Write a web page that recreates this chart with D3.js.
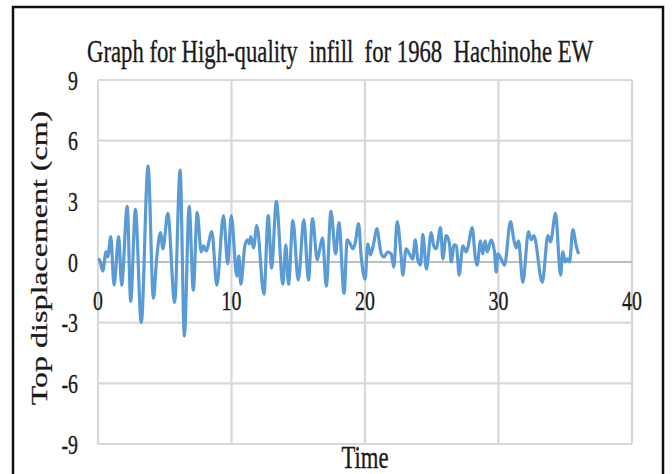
<!DOCTYPE html>
<html>
<head>
<meta charset="utf-8">
<script src="https://cdn.jsdelivr.net/npm/d3@7"></script>
<style>
  html, body { margin: 0; padding: 0; background: #fff; }
  svg { display: block; }
</style>
</head>
<body>
<svg id="chart" width="672" height="474"></svg>
<script>
// ---- data ----
const titleText = "Graph for High-quality  infill  for 1968  Hachinohe EW";
const xTitle = "Time";
const yTitle = "Top displacement (cm)";
const xTicks = [0, 10, 20, 30, 40];
const yTicks = [-9, -6, -3, 0, 3, 6, 9];

const time = [
  0.0, 0.12, 0.36, 0.6, 0.72, 0.96, 1.2, 1.55, 1.77, 2.19, 2.45, 2.8, 3.24, 3.75,
  4.15, 4.4, 4.68, 4.86, 5.23, 5.74, 6.15, 6.47, 6.83, 7.14, 7.43, 7.73, 7.9, 8.1,
  8.53, 8.9, 9.4, 9.72, 9.98, 10.4, 10.55, 10.7, 11.0, 11.2, 11.33, 11.45, 11.65, 11.9,
  12.43, 12.75, 13.0, 13.36, 13.85, 14.07, 14.27, 14.6, 15.0, 15.42, 15.76, 16.07,
  16.42, 16.6, 16.82, 17.1, 17.45, 17.8, 18.05, 18.43, 18.67, 18.86, 19.09, 19.27,
  19.52, 19.71, 20.01, 20.21, 20.41, 20.66, 20.88, 21.2, 21.41, 21.71, 21.96, 22.16,
  22.41, 22.71, 22.83, 23.08, 23.33, 23.58, 23.76, 23.96, 24.16, 24.33, 24.6, 24.96,
  25.15, 25.33, 25.66, 25.83, 26.08, 26.33, 26.46, 26.68, 26.85, 27.05, 27.33, 27.58,
  27.7, 28.03, 28.25, 28.4, 28.65, 28.82, 29.0, 29.15, 29.45, 29.7, 29.83, 29.95,
  30.2, 30.45, 30.9, 31.15, 31.33, 31.5, 31.82, 32.25, 32.45, 32.65, 33.28, 33.7,
  33.9, 34.27, 34.65, 34.82, 35.0, 35.15, 35.32, 35.57, 35.82, 36.0
];
const displacement = [
  0.15, 0.1, -0.45, 0.5, 0.25, 1.25, -1.15, 1.25, -1.15, 2.75, -1.95, 2.6, -3.0, 4.75,
  -1.8, 0.2, 1.45, 0.65, 2.4, -2.0, 4.55, -3.65, 2.75, -1.4, 2.45, 0.5, 0.8, 0.55,
  1.5, -1.15, 2.3, -0.1, 2.3, -0.7, 0.3, -1.1, 0.8, 1.1, 0.9, 1.25, 0.7, 1.8,
  -1.6, 2.3, -0.3, 3.0, -1.1, 0.85, -1.1, 2.05, -0.9, 2.1, -0.9, 2.15,
  0.1, 0.6, 1.2, -1.2, 2.5, 0.4, 1.95, -1.55, 1.1, 0.95, 0.65, 0.95,
  1.9, 0.3, -0.85, 0.9, 0.35, 0.95, 1.65, 0.45, 0.25, 0.5, 0.4, -0.25,
  2.0, 0.25, -0.65, 0.65, 0.4, 0.15, 1.1, 0.1, -0.15, 1.37, -0.35, 1.45,
  0.8, 0.65, 1.7, 0.15, 1.3, 0.9, 0.0, 0.85, 0.8, -0.65, 0.8, 0.5,
  0.7, 1.7, 0.3, -0.15, 1.05, 0.4, 1.05, 0.5, 1.1, 0.5, -0.5, 0.4,
  0.15, -0.15, 2.0, 1.1, 0.7, 1.05, -1.0, 1.5, 1.1, 1.3, -1.0, 1.3,
  1.0, 2.4, -0.65, 0.5, 0.0, 0.15, 0.0, 1.6, 0.8, 0.4
];

// ---- layout ----
const svg = d3.select("#chart");
const plot = { left: 98, right: 632, top: 80, bottom: 444 };
const squeeze = 0.71;            // reference text is horizontally condensed
const fontFamily = "'Liberation Serif', 'Times New Roman', Times, serif";

const x = d3.scaleLinear().domain([0, 40]).range([plot.left, plot.right]);
const y = d3.scaleLinear().domain([-9, 9]).range([plot.bottom, plot.top]);

// outer frame
svg.append("rect")
  .attr("x", 13).attr("y", 7)
  .attr("width", 650).attr("height", 480)
  .attr("fill", "none").attr("stroke", "#111").attr("stroke-width", 2.5);

// gridlines
const grid = svg.append("g");
grid.selectAll("line.h").data(yTicks).join("line")
  .attr("x1", plot.left).attr("x2", plot.right)
  .attr("y1", d => y(d)).attr("y2", d => y(d))
  .attr("stroke", d => d === 0 ? "#bfbfbf" : "#d9d9d9")
  .attr("stroke-width", 2.2);
grid.selectAll("line.v").data(xTicks).join("line")
  .attr("y1", plot.top).attr("y2", plot.bottom)
  .attr("x1", d => x(d)).attr("x2", d => x(d))
  .attr("stroke", "#d9d9d9")
  .attr("stroke-width", 2.2);
// zero axis on top of verticals
svg.append("line")
  .attr("x1", plot.left).attr("x2", plot.right)
  .attr("y1", y(0)).attr("y2", y(0))
  .attr("stroke", "#bfbfbf").attr("stroke-width", 2.2);

// series line
const pts = time.map((t, i) => [t, displacement[i]]);
svg.append("path")
  .datum(pts)
  .attr("fill", "none")
  .attr("stroke", "#5b9bd5")
  .attr("stroke-width", 3.2)
  .attr("stroke-linejoin", "round")
  .attr("d", d3.line().x(d => x(d[0])).y(d => y(d[1])).curve(d3.curveMonotoneX));

function label(tx, ty, txt, size, anchor, extra) {
  return svg.append("text")
    .attr("transform", `translate(${tx},${ty}) scale(${squeeze},1)` + (extra || ""))
    .attr("text-anchor", anchor)
    .attr("font-family", fontFamily)
    .attr("font-size", size)
    .attr("fill", "#1a1a1a")
    .attr("stroke", "#1a1a1a")
    .attr("stroke-width", 0.35)
    .text(txt);
}

// y tick labels
yTicks.forEach(v => label(78, y(v) + 9.5, v, 28, "end"));
// x tick labels (axis crosses at 0)
xTicks.forEach(v => label(x(v), y(0) + 48, v, 28, "middle"));

// title
label(340, 62, titleText, 32, "middle").attr("xml:space", "preserve").style("white-space", "pre");
// x title
label(365, 468, xTitle, 32, "middle");
// y title
label(46.5, 258, yTitle, 32, "middle", " rotate(-90)");
</script>
</body>
</html>
